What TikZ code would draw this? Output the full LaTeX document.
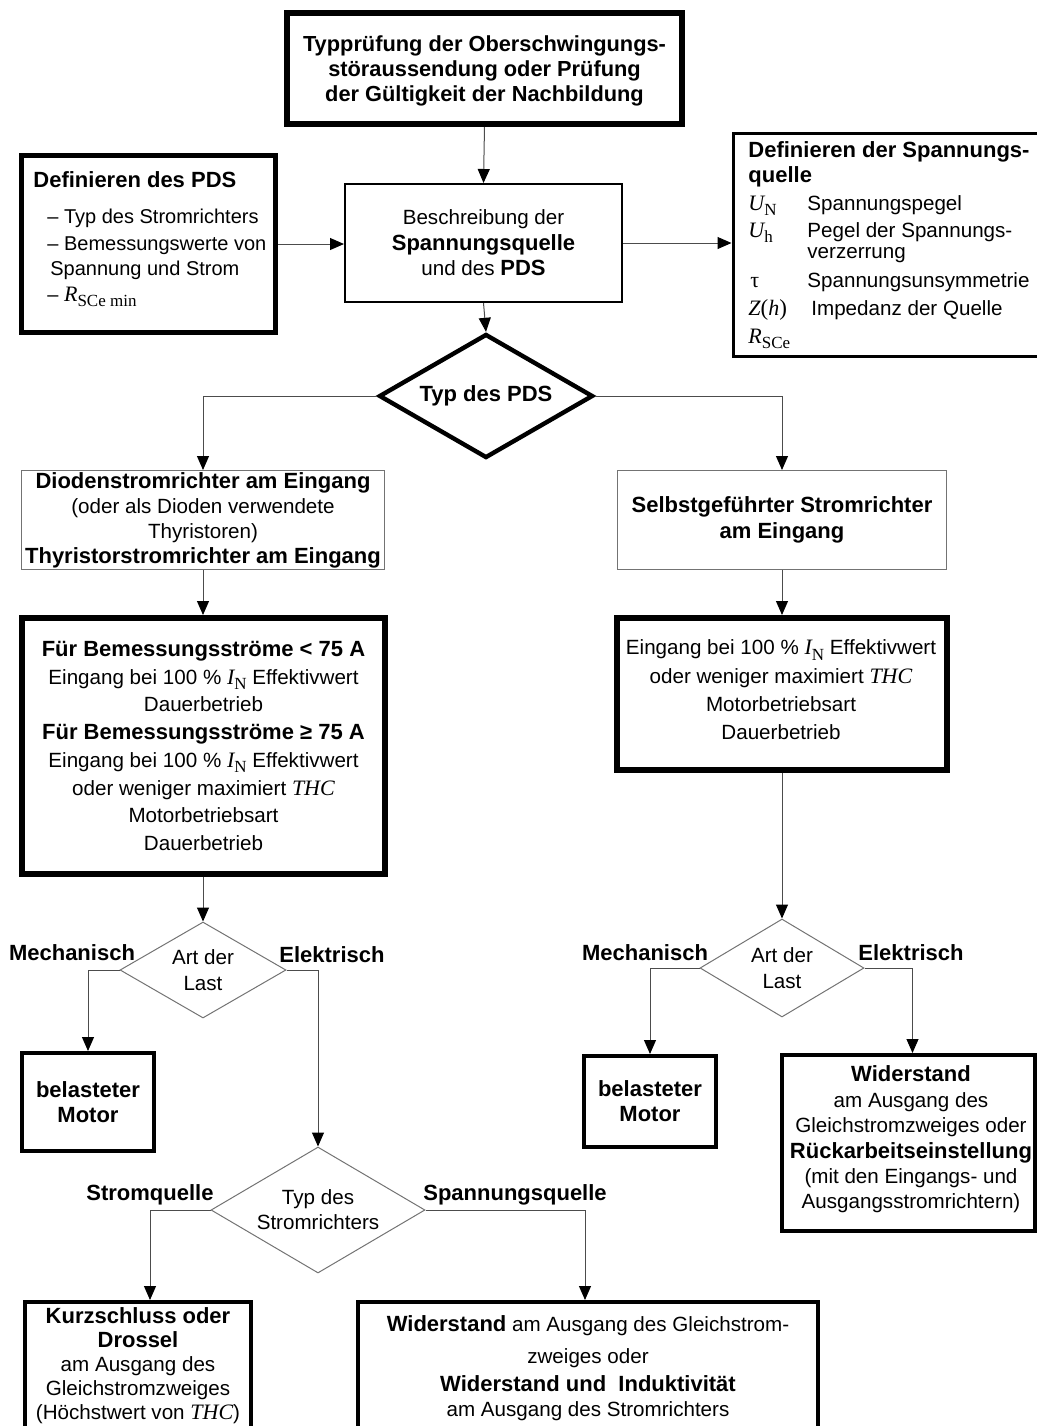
\documentclass[tikz,border=0pt]{standalone}
\usepackage{fontspec}
\setmainfont{Liberation Sans}
\newfontfamily\tms{Liberation Serif}
\usetikzlibrary{arrows.meta,shapes.geometric}

% italic serif quantities, optionally with an upright subscript
\newcommand\mi[1]{{\tms\itshape\fontsize{11}{12}\selectfont #1}}
\newcommand\ms[2]{\mi{#1}\raisebox{-0.5ex}{\tms\fontsize{8.5}{9}\selectfont #2}}
\newcommand\B[1]{{\bfseries\fontsize{11}{13}\selectfont #1}}

\tikzset{
  txt/.style={inner sep=0pt, font=\fontsize{10.3}{12.5}\selectfont},
  ctxt/.style={txt, align=center},
  lbl/.style={inner sep=0pt, font=\bfseries\fontsize{11}{13}\selectfont},
  box/.style={draw, inner sep=0pt, align=center, fill=white},
  lightbox/.style={box, draw=black!55, line width=0.6pt},
  decision/.style={draw=black!55, line width=0.5pt, shape=diamond, inner sep=0pt, align=center},
  conn/.style={draw=black!70, line width=0.5pt, -{Triangle[length=7pt,width=6pt,color=black]}},
}

\begin{document}
\begin{tikzpicture}[x=0.5pt, y=-0.5pt]
\useasboundingbox (0,0) rectangle (1037,1426);

% ---- top part ----
\node[box, line width=3pt, minimum width=197.5pt, minimum height=55.5pt] (top) at (484.5,68.5) {};
\node[ctxt, font=\bfseries\fontsize{10.9}{12.5}\selectfont] (topt) at (484.5,71)
  {Typprüfung der Oberschwingungs-\\störaussendung oder Prüfung\\der Gültigkeit der Nachbildung};

\node[box, line width=1pt, minimum width=138.5pt, minimum height=59pt,
      font=\fontsize{10.3}{12.75}\selectfont] (besch) at (483.5,243)
  {Beschreibung der\\\B{Spannungsquelle}\\und des \B{PDS}};

\node[box, line width=2.5pt, minimum width=127pt, minimum height=88.5pt] (pds) at (148.5,244) {};
\node[txt, anchor=base west] (pds1) at (33,187) {\B{Definieren des PDS}};
\node[txt, font=\fontsize{10}{12}\selectfont, anchor=base west] (pds2) at (47,223) {– Typ des Stromrichters};
\node[txt, font=\fontsize{10}{12}\selectfont, anchor=base west] (pds3) at (47,250) {– Bemessungswerte von};
\node[txt, font=\fontsize{10}{12}\selectfont, anchor=base west] (pds4) at (50,275) {Spannung und Strom};
\node[txt, font=\fontsize{10}{12}\selectfont, anchor=base west] (pds5) at (47,301) {– \ms{R}{SCe min}};

\node[box, line width=1.5pt, minimum width=170pt, minimum height=111.5pt] (src) at (903,245) {};
\node[txt, anchor=base west] (src1) at (748,157) {\B{Definieren der Spannungs-}};
\node[txt, anchor=base west] (src2) at (748,182) {\B{quelle}};
\node[txt, anchor=base west] (srcA) at (748,210) {\ms{U}{N}};
\node[txt, anchor=base west] (srcB) at (807,210) {Spannungspegel};
\node[txt, anchor=base west] (srcC) at (748,237) {\ms{U}{h}};
\node[txt, anchor=base west] (srcD) at (807,237) {Pegel der Spannungs-};
\node[txt, anchor=base west] (srcE) at (807,258) {verzerrung};
\node[txt, anchor=base west] (srcF) at (750,287) {{\tms\fontsize{11}{12}\selectfont τ}};
\node[txt, anchor=base west] (srcG) at (807,287) {Spannungsunsymmetrie};
\node[txt, anchor=base west] (srcH) at (748,315) {\mi{Z}{\tms\fontsize{11.5}{12}\selectfont(}\mi{h}{\tms\fontsize{11.5}{12}\selectfont)}};
\node[txt, anchor=base west] (srcI) at (811,315) {Impedanz der Quelle};
\node[txt, anchor=base west] (srcJ) at (748,343) {\ms{R}{SCe}};

\node[decision, draw=black, line width=2.2pt, minimum width=107pt, minimum height=62pt,
      shape aspect=1.7, font=\bfseries\fontsize{11}{13}\selectfont] (typ) at (486,396) {Typ des PDS};

% ---- converter type ----
\node[lightbox, minimum width=181.4pt, minimum height=49.4pt,
      font=\fontsize{10.3}{12.5}\selectfont] (dio) at (203,520)
  {\B{Diodenstromrichter am Eingang}\\(oder als Dioden verwendete\\Thyristoren)\\\B{Thyristorstromrichter am Eingang}};

\node[lightbox, minimum width=164.4pt, minimum height=49.4pt,
      font=\fontsize{10.3}{13}\selectfont] (self) at (782,520)
  {\B{Selbstgeführter Stromrichter}\\\B{am Eingang}};

\node[box, line width=2.8pt, minimum width=181.7pt, minimum height=128.2pt,
      font=\fontsize{10.3}{13.85}\selectfont] (condL) at (203.5,746)
  {\B{Für Bemessungsströme < 75 A}\\
   Eingang bei 100 \% \ms{I}{N} Effektivwert\\
   Dauerbetrieb\\
   \B{Für Bemessungsströme ≥ 75 A}\\
   Eingang bei 100 \% \ms{I}{N} Effektivwert\\
   oder weniger maximiert \mi{THC}\\
   Motorbetriebsart\\
   Dauerbetrieb};

\node[box, line width=2.8pt, minimum width=165.2pt, minimum height=76.2pt] (condR) at (782,694) {};
\node[ctxt, font=\fontsize{10.3}{14.2}\selectfont] (condRt) at (781,690)
  {Eingang bei 100 \% \ms{I}{N} Effektivwert\\
   oder weniger maximiert \mi{THC}\\
   Motorbetriebsart\\
   Dauerbetrieb};

% ---- load type ----
\node[decision, minimum width=83pt, minimum height=48pt, shape aspect=1.73,
      font=\fontsize{10.3}{13}\selectfont] (loadL) at (203,970) {Art der\\Last};
\node[decision, minimum width=82pt, minimum height=49pt, shape aspect=1.67,
      font=\fontsize{10.3}{13}\selectfont] (loadR) at (782,968) {Art der\\Last};

\node[lbl] (mechL) at (72,953) {Mechanisch};
\node[lbl] (elecL) at (332,955) {Elektrisch};
\node[lbl] (mechR) at (645,953) {Mechanisch};
\node[lbl] (elecR) at (911,953) {Elektrisch};

\node[box, line width=2.2pt, minimum width=65.8pt, minimum height=48.8pt,
      font=\bfseries\fontsize{11}{12.5}\selectfont] (motL) at (88,1102) {belasteter\\Motor};
\node[box, line width=2.2pt, minimum width=65.8pt, minimum height=45.3pt,
      font=\bfseries\fontsize{11}{12.5}\selectfont] (motR) at (650,1101.5) {belasteter\\Motor};

\node[box, line width=2.2pt, minimum width=126.3pt, minimum height=87.8pt] (widR) at (908.5,1143) {};
\node[ctxt, font=\fontsize{10.3}{12.7}\selectfont] (widRt) at (911,1139.5)
  {\B{Widerstand}\\am Ausgang des\\Gleichstromzweiges oder\\\B{Rückarbeitseinstellung}\\(mit den Eingangs- und\\Ausgangsstromrichtern)};

% ---- converter output ----
\node[decision, minimum width=107pt, minimum height=63pt, shape aspect=1.7,
      font=\fontsize{10.3}{12.5}\selectfont] (conv) at (318,1210) {Typ des\\Stromrichters};

\node[lbl] (curr) at (150,1195) {Stromquelle};
\node[lbl] (volt) at (515,1195) {Spannungsquelle};

\node[box, line width=2.2pt, minimum width=112.8pt, minimum height=72.8pt] (kurz) at (138,1375) {};
\node[ctxt, font=\fontsize{10.3}{12}\selectfont] (kurzt) at (138,1365.5)
  {\B{Kurzschluss oder}\\\B{Drossel}\\am Ausgang des\\Gleichstromzweiges\\(Höchstwert von \mi{THC})};

\node[box, line width=2.2pt, minimum width=229.8pt, minimum height=72.8pt] (widB) at (588,1375) {};
\node[ctxt, font=\fontsize{10.3}{12.5}\selectfont] (widBt) at (588,1368.5)
  {\B{Widerstand} am Ausgang des Gleichstrom-\\[3.5pt]zweiges oder\\[1.5pt]\B{Widerstand und\ \ Induktivität}\\am Ausgang des Stromrichters};

% ---- connectors ----
\draw[conn] (top.south) -- (besch.north);
\draw[conn] (pds.east) -- (pds.east -| besch.west);
\draw[conn] (besch.east) -- (besch.east -| src.west);
\draw[conn] (besch.south) -- (typ.north);
\draw[conn] (typ.west) -| (dio.north);
\draw[conn] (typ.east) -| (self.north);
\draw[conn] (dio.south) -- (condL.north -| dio.south);
\draw[conn] (self.south) -- (condR.north -| self.south);
\draw[conn] (condL.south -| loadL.north) -- (loadL.north);
\draw[conn] (condR.south) -- (loadR.north);
\draw[conn] (loadL.west) -| (motL.north);
\draw[conn] (loadL.east) -| (conv.north);
\draw[conn] (loadR.west) -| (motR.north);
\draw[conn] (loadR.east) -| ([xshift=2pt]widR.north);
\draw[conn] (conv.west) -| ([xshift=6pt]kurz.north);
\draw[conn] (conv.east) -| ([xshift=-1.5pt]widB.north);
\end{tikzpicture}
\end{document}
